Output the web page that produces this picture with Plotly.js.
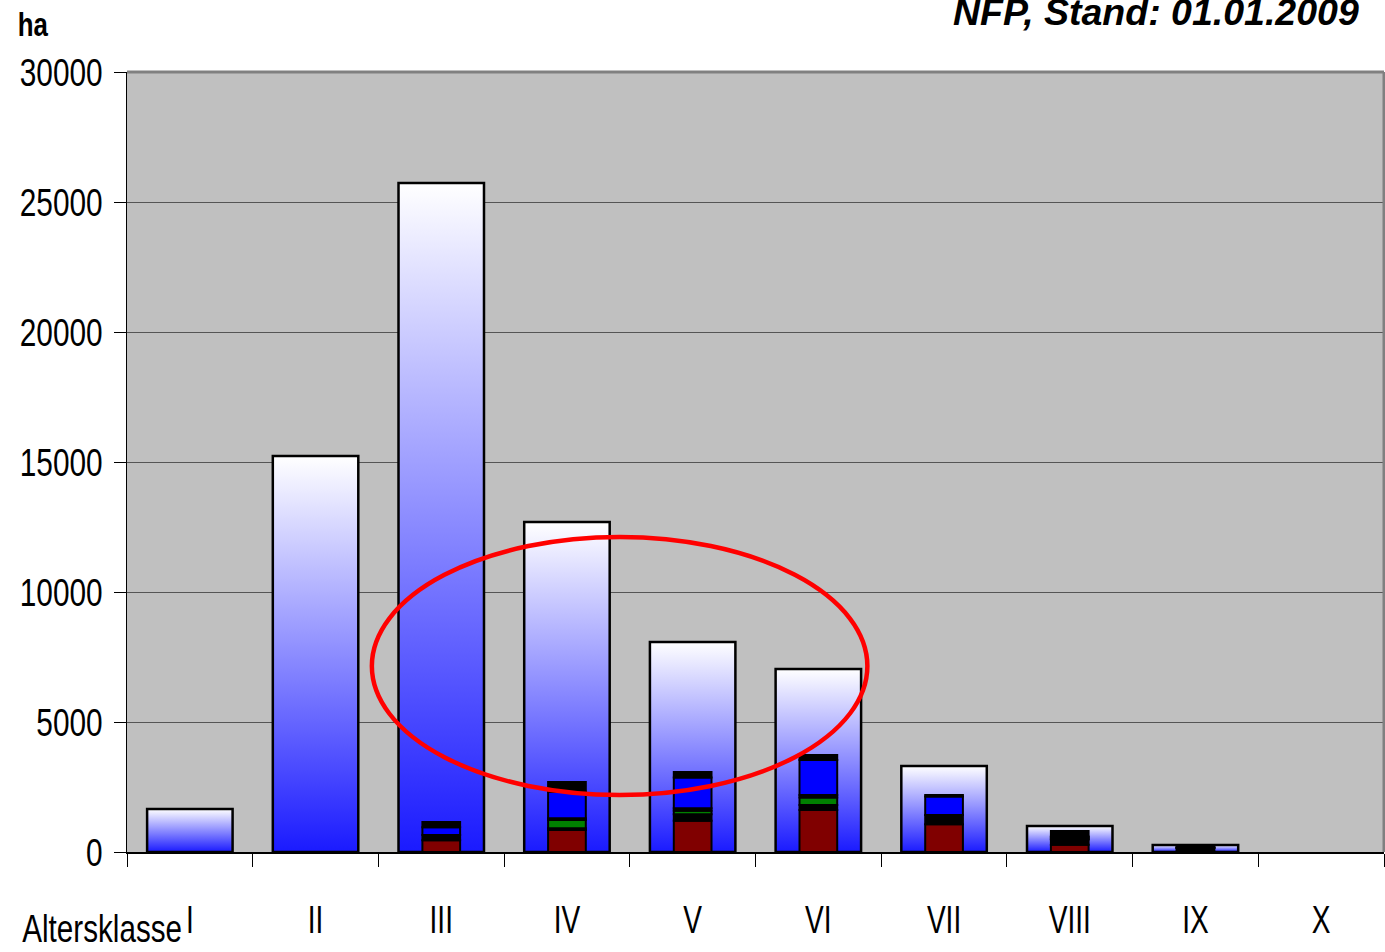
<!DOCTYPE html>
<html>
<head>
<meta charset="utf-8">
<script src="https://cdn.plot.ly/plotly-3.0.1.min.js"></script>
<style>
html,body{margin:0;padding:0;background:#fff;}
#chart{width:1385px;height:952px;}
</style>
</head>
<body>
<div id="chart"></div>
<script>
// Age classes (Altersklassen)
const categories = ["I","II","III","IV","V","VI","VII","VIII","IX","X"];
// Total area per age class (ha)
const totalArea = [1650, 15230, 25730, 12690, 8080, 7040, 3310, 1000, 270, 0];
// Inner stacked segments (ha), bottom to top
const segRed    = [0, 0, 450, 846, 1205, 1615, 1065, 280, 20, 0];
const segBlack1 = [0, 0, 200, 65, 245, 190, 360, 200, 120, 0];
const segGreen  = [0, 0, 0, 320, 140, 295, 0, 30, 10, 0];
const segBlack2 = [0, 0, 0, 65, 90, 90, 0, 60, 20, 0];
const segBlue   = [0, 0, 300, 1023, 1190, 1346, 705, 30, 10, 0];
const segBlack3 = [0, 0, 200, 373, 205, 190, 65, 210, 40, 0];
const yTicks = [0, 5000, 10000, 15000, 20000, 25000, 30000];

const sans = "'Liberation Sans', Arial, sans-serif";

const traces = [];
traces.push({
  type: 'bar', x: categories, y: totalArea.map(v => v || null),
  width: 0.68,
  marker: {color: '#8080ff', line: {color: '#000', width: 2.5}},
  hoverinfo: 'skip', showlegend: false
});
const segs = [
  [segRed, '#800000'], [segBlack1, '#000000'], [segGreen, '#008000'],
  [segBlack2, '#000000'], [segBlue, '#0000ff'], [segBlack3, '#000000']
];
let cum = categories.map(() => 0);
segs.forEach(([arr, col]) => {
  traces.push({
    type: 'bar', x: categories, y: arr.map(v => v || null),
    base: cum.slice(), width: 0.3,
    marker: {color: col, line: {color: '#000', width: 2}},
    hoverinfo: 'skip', showlegend: false
  });
  cum = cum.map((c, i) => c + arr[i]);
});

const layout = {
  width: 1385, height: 952,
  margin: {l: 127, r: 1, t: 72, b: 100},
  paper_bgcolor: '#ffffff', plot_bgcolor: '#c0c0c0',
  barmode: 'overlay',
  showlegend: false,
  font: {family: sans, color: '#000'},
  xaxis: {
    type: 'category', range: [-0.5, 9.5], fixedrange: true,
    showgrid: false, zeroline: false,
    showline: true, linecolor: '#000', linewidth: 1.5,
    ticks: 'outside', tickson: 'boundaries', ticklen: 13, tickcolor: '#000', tickwidth: 1,
    tickfont: {family: sans, size: 39, color: '#000'},
    ticklabelstandoff: 33
  },
  yaxis: {
    range: [0, 30000], tickvals: yTicks, ticktext: yTicks.map(String),
    showgrid: true, gridcolor: '#555555', gridwidth: 1,
    zeroline: false, showline: true, linecolor: '#000', linewidth: 1.5,
    ticks: 'outside', ticklen: 12, tickcolor: '#000', tickwidth: 1,
    tickfont: {family: sans, size: 39, color: '#000'},
    ticklabelstandoff: 3
  },
  shapes: [
    {type: 'line', xref: 'paper', yref: 'paper', x0: 0, x1: 1, y0: 1, y1: 1, line: {color: '#808080', width: 3}},
    {type: 'line', xref: 'paper', yref: 'paper', x0: 1, x1: 1, y0: 0, y1: 1, line: {color: '#808080', width: 3}},
    {type: 'circle', xref: 'x', yref: 'y', x0: 1.448, x1: 5.39, y0: 2192, y1: 12115,
     line: {color: '#ff0000', width: 4.5}, fillcolor: 'rgba(0,0,0,0)'}
  ],
  annotations: [
    {text: '<b><i>NFP, Stand: 01.01.2009</i></b>', xref: 'paper', yref: 'paper',
     x: 0.9817, y: 1.0769, xanchor: 'right', yanchor: 'middle', showarrow: false,
     font: {family: sans, size: 37.5, color: '#000'}},
    {text: 'ha', xref: 'paper', yref: 'paper', x: -0.0747, y: 1.062,
     xanchor: 'center', yanchor: 'middle', showarrow: false, name: 'squeeze',
     font: {family: sans, size: 34, weight: 'bold', color: '#000'}},
    {text: 'Altersklasse', xref: 'paper', yref: 'paper', x: -0.0199, y: -0.098,
     xanchor: 'center', yanchor: 'middle', showarrow: false, name: 'squeeze',
     font: {family: sans, size: 39, color: '#000'}}
  ]
};

function squeeze(nodes, f) {
  nodes.forEach(t => {
    if (t.getAttribute('data-sq')) return;
    const w = t.getComputedTextLength();
    if (!w) return;
    t.setAttribute('textLength', (w * f).toFixed(2));
    t.setAttribute('lengthAdjust', 'spacingAndGlyphs');
    t.setAttribute('data-sq', '1');
  });
}

function decorate(gd) {
  const svg = gd.querySelector('.main-svg');
  if (!svg) return;
  const ns = 'http://www.w3.org/2000/svg';
  let defs = svg.querySelector('defs');
  if (!defs) { defs = document.createElementNS(ns, 'defs'); svg.insertBefore(defs, svg.firstChild); }
  if (!svg.querySelector('#barGrad')) {
    const lg = document.createElementNS(ns, 'linearGradient');
    lg.setAttribute('id', 'barGrad');
    lg.setAttribute('x1', '0'); lg.setAttribute('y1', '0');
    lg.setAttribute('x2', '0'); lg.setAttribute('y2', '1');
    [['0%', '#ffffff'], ['100%', '#1a1aff']].forEach(([o, c]) => {
      const s = document.createElementNS(ns, 'stop');
      s.setAttribute('offset', o); s.setAttribute('stop-color', c);
      lg.appendChild(s);
    });
    defs.appendChild(lg);
  }
  const barTraces = gd.querySelectorAll('.barlayer .trace.bars');
  if (barTraces.length) {
    barTraces[0].querySelectorAll('.point path').forEach(p => { p.style.fill = 'url(#barGrad)'; });
  }
  // narrow (condensed) look of the original labels
  squeeze(gd.querySelectorAll('.ytick text'), 0.765);
  squeeze(gd.querySelectorAll('.xtick text'), 0.72);
  const ann = gd.querySelectorAll('.annotation text.annotation-text');
  ann.forEach((t, i) => { if (i > 0) squeeze([t], 0.76); });
}

const gd = document.getElementById('chart');
Plotly.newPlot(gd, traces, layout, {displayModeBar: false, staticPlot: true}).then(() => {
  decorate(gd);
  gd.on('plotly_afterplot', () => decorate(gd));
});
</script>
</body>
</html>
